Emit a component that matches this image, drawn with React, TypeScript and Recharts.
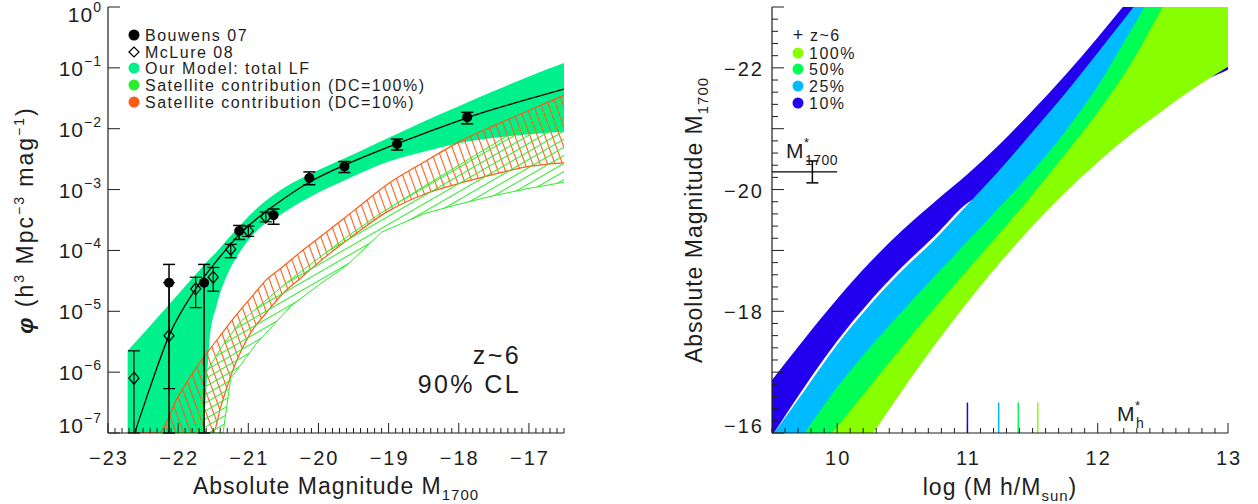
import React from 'react';
import {
  ComposedChart,
  Area,
  Line,
  Scatter,
  ErrorBar,
  XAxis,
  YAxis,
  ReferenceLine,
} from 'recharts';

/* two-panel figure: z~6 luminosity function (left), M1700 vs halo mass (right) */

const FONT = '"Liberation Sans", Arial, sans-serif';
const INK = '#1e1e1e';
const MINT = '#00f08c';
const SAT_GREEN = '#2bee2b';
const SAT_ORANGE = '#ff5a14';
const C100 = '#88ff00';
const C50 = '#00ff55';
const C25 = '#00bbff';
const C10 = '#2200ee';

// ---- left panel data (values are log10 phi) ----
const bouwensMag = [-22.13, -21.63, -21.13, -20.64, -20.13, -19.63, -18.88, -17.88];
const bouwensLog = [-4.53, -4.53, -3.68, -3.42, -2.81, -2.62, -2.25, -1.81];
const bouwensHiLog = [-4.23, -4.23, -3.59, -3.32, -2.71, -2.54, -2.17, -1.73];
const bouwensLoLog = [-7, -7, -3.82, -3.57, -2.92, -2.72, -2.35, -1.92];

const mclureMag = [-22.63, -22.13, -21.75, -21.5, -21.25, -21.0, -20.75];
const mclureLog = [-6.1, -5.4, -4.63, -4.44, -3.98, -3.68, -3.45];
const mclureHiLog = [-5.65, -4.53, -4.44, -4.28, -3.9, -3.6, -3.37];
const mclureLoLog = [-7, -6.27, -4.94, -4.67, -4.12, -3.77, -3.53];

const totalMag = [-22.72, -22.5, -22.0, -21.7, -21.6, -21.55, -21.45, -21.3, -21.15, -20.9, -20.5, -20.0, -19.5, -19.0, -18.5, -18.0, -17.5, -17.0, -16.5];
const totalHiLog = [-5.65, -5.37, -4.72, -4.33, -4.2, -4.14, -4.02, -3.82, -3.63, -3.33, -2.98, -2.68, -2.42, -2.15, -1.88, -1.63, -1.38, -1.14, -0.92];
const totalLoLog = [-8, -8, -8, -8, -6.3, -5.45, -4.9, -4.4, -4.08, -3.7, -3.38, -3.05, -2.78, -2.54, -2.38, -2.24, -2.15, -2.09, -2.05];

const medianMag = [-22.62, -22.4, -22.13, -21.75, -21.4, -21.13, -20.9, -20.64, -20.13, -19.63, -19.0, -18.5, -17.88, -17.5, -17.0, -16.5];
const medianLog = [-7.0, -6.25, -5.4, -4.63, -4.1, -3.74, -3.5, -3.27, -2.88, -2.6, -2.3, -2.08, -1.82, -1.68, -1.51, -1.35];

const dc10Mag = [-22.72, -22.29, -22.0, -21.69, -21.5, -21.4, -21.22, -20.98, -20.74, -20.5, -20.27, -20.0, -19.5, -19.0, -18.5, -18.0, -17.5, -17.0, -16.5];
const dc10HiLog = [-7, -7, -6.4, -5.84, -5.55, -5.4, -5.13, -4.8, -4.48, -4.26, -4.04, -3.8, -3.35, -2.9, -2.55, -2.22, -1.95, -1.7, -1.45];
const dc10LoLog = [-7, -7, -7, -7, -7, -6.6, -5.97, -5.38, -5.02, -4.7, -4.47, -4.2, -3.75, -3.35, -3.08, -2.9, -2.75, -2.62, -2.56];

const dc100Mag = [-22.3, -21.75, -21.6, -21.36, -21.25, -21.1, -20.9, -20.7, -20.4, -20.0, -19.6, -19.1, -18.5, -18.0, -17.5, -17.0, -16.5];
const dc100HiLog = [-7, -7, -6.0, -5.55, -5.38, -5.16, -4.97, -4.77, -4.48, -4.13, -3.78, -3.38, -2.95, -2.6, -2.25, -1.9, -1.5];
const dc100LoLog = [-7, -7, -7, -7, -6.1, -5.87, -5.55, -5.3, -4.92, -4.57, -4.25, -3.7, -3.4, -3.24, -3.1, -2.98, -2.88];

// ---- right panel data (M1700 vs log halo mass, one band per duty cycle) ----
const massGrid = [9.5, 9.75, 10.0, 10.25, 10.5, 10.75, 11.0, 11.25, 11.5, 11.75, 12.0, 12.25, 12.5, 12.75, 13.0];
const dc10Top = [-16.87, -17.55, -18.2, -18.8, -19.33, -19.8, -20.25, -20.75, -21.3, -21.88, -22.5, -23.15, -23.8, -24.5, -25.2];
const dc10Bottom = [-15.95, -16.76, -17.51, -18.16, -18.73, -19.24, -19.78, -20.03, -20.65, -21.28, -21.95, -22.63, -21.9, -21.8, -21.97];
const dc25Top = [-15.95, -16.7, -17.45, -18.1, -18.67, -19.18, -19.75, -20.33, -20.95, -21.58, -22.25, -22.93, -23.6, -24.3, -25.0];
const dc25Bottom = [-14.95, -15.7, -16.45, -17.1, -17.7, -18.28, -18.85, -19.42, -20.0, -20.65, -21.4, -22.3, -23.2, -24.1, -24.9];
const dc50Top = [-15.25, -16.0, -16.75, -17.4, -18.0, -18.58, -19.15, -19.72, -20.3, -20.95, -21.7, -22.6, -23.5, -24.4, -25.2];
const dc50Bottom = [-14.5, -15.15, -15.8, -16.46, -17.12, -17.76, -18.38, -18.99, -19.62, -20.28, -20.97, -21.75, -22.7, -23.6, -24.5];
const dc100Top = [-14.8, -15.45, -16.1, -16.76, -17.42, -18.06, -18.68, -19.29, -19.92, -20.58, -21.27, -22.05, -23.0, -23.9, -24.8];
const dc100Bottom = [-13.8, -14.5, -15.2, -15.92, -16.7, -17.45, -18.15, -18.8, -19.4, -19.95, -20.45, -20.9, -21.3, -21.68, -22.02];

const mStarHalo = [11.0, 11.24, 11.39, 11.54];
const mStarHaloColors = [C10, C25, C50, C100];
const mStar1700 = { mass: 9.81, mag: -20.29, err: 0.18, lineFrom: 9.5, lineTo: 10.0 };

// ---- tick labels ----
const leftMagLabels = [-23, -22, -21, -20, -19, -18, -17];
const decades = [1e-7, 1e-6, 1e-5, 1e-4, 1e-3, 1e-2, 1e-1, 1];
const massLabels = [10, 11, 12, 13];
const rightMagMajor = [-23, -22, -21, -20, -19, -18, -17, -16];
const rightMagLabels = [-22, -20, -18, -16];

const steps = (a: number, b: number, s: number) => {
  const n = Math.round((b - a) / s);
  const out: number[] = [];
  for (let i = 0; i <= n; i++) out.push(Math.round((a + i * s) * 1000) / 1000);
  return out;
};
const leftMagTicks = steps(-23, -16.5, 0.1);
const massTicks = steps(9.5, 13, 0.1);
const rightMagTicks = steps(-23, -16, 0.2);

const p10 = (v: number) => Math.pow(10, v);
const has = (arr: number[], v: number) => arr.some((a) => Math.abs(a - v) < 1e-6);
const fmt = (v: number) => (v < 0 ? '\u2212' + Math.abs(v) : String(v));

const withErr = (mag: number[], lg: number[], hi: number[], lo: number[]) =>
  mag.map((m, i) => {
    const phi = p10(lg[i]);
    return { m, phi, err: [phi - p10(lo[i]), p10(hi[i]) - phi] };
  });
const bandData = (mag: number[], lo: number[], hi: number[]) =>
  mag.map((m, i) => ({ m, band: [p10(lo[i]), p10(hi[i])] }));
const massBand = (bottom: number[], top: number[]) =>
  massGrid.map((lm, i) => ({ lm, band: [bottom[i], top[i]] }));

const bouwensData = withErr(bouwensMag, bouwensLog, bouwensHiLog, bouwensLoLog);
const mclureData = withErr(mclureMag, mclureLog, mclureHiLog, mclureLoLog);
const totalData = bandData(totalMag, totalLoLog, totalHiLog);
const dc10Data = bandData(dc10Mag, dc10LoLog, dc10HiLog);
const dc100Data = bandData(dc100Mag, dc100LoLog, dc100HiLog);
const medianData = medianMag.map((m, i) => ({ m, phi: p10(medianLog[i]) }));

// ---- inward-pointing IDL style ticks ----
const txt = { fontFamily: FONT, fill: INK } as const;

function linTick(side: string, majors: number[], labels: number[], liftAt?: number) {
  return (props: any) => {
    const { x, y, payload } = props;
    const v = Number(payload.value);
    const major = has(majors, v);
    const len = side === 'left' || side === 'right' ? (major ? 12 : 6) : major ? 10 : 5;
    let line = null;
    if (side === 'bottom') line = <line x1={x} y1={y} x2={x} y2={y - len} stroke={INK} />;
    if (side === 'top') line = <line x1={x} y1={y} x2={x} y2={y + len} stroke={INK} />;
    if (side === 'left') line = <line x1={x} y1={y} x2={x + len} y2={y} stroke={INK} />;
    if (side === 'right') line = <line x1={x} y1={y} x2={x - len} y2={y} stroke={INK} />;
    let label = null;
    if (has(labels, v) && side === 'bottom') {
      label = (
        <text x={x + 1} y={y + 32} textAnchor="middle" fontSize={20} letterSpacing={2} {...txt}>
          {fmt(v)}
        </text>
      );
    }
    if (has(labels, v) && side === 'left') {
      const dy = liftAt !== undefined && Math.abs(v - liftAt) < 1e-6 ? 0 : 8;
      label = (
        <text x={x - 8} y={y + dy} textAnchor="end" fontSize={20} letterSpacing={2} {...txt}>
          {fmt(v)}
        </text>
      );
    }
    return (
      <g>
        {line}
        {label}
      </g>
    );
  };
}

function logTick(side: string) {
  return (props: any) => {
    const { x, y, payload } = props;
    const e = Math.round(Math.log10(Number(payload.value)));
    if (side === 'right') return <line x1={x} y1={y} x2={x - 12} y2={y} stroke={INK} />;
    const base = e === 0 ? 15 : e === -7 ? 0 : 8;
    return (
      <g>
        <line x1={x} y1={y} x2={x + 12} y2={y} stroke={INK} />
        <text x={x - 6} y={y + base} textAnchor="end" fontSize={21} letterSpacing={1} {...txt}>
          <tspan>10</tspan>
          <tspan dy={-10} fontSize={14}>
            {e === 0 ? '0' : '\u2212' + Math.abs(e)}
          </tspan>
        </text>
      </g>
    );
  };
}

const axisLine = { stroke: INK, strokeWidth: 1.2 };

const Diamond = (props: any) => {
  const { cx, cy } = props;
  return (
    <path
      d={`M${cx - 5},${cy}L${cx},${cy - 6}L${cx + 5},${cy}L${cx},${cy + 6}Z`}
      fill="none"
      stroke="#000"
      strokeWidth={1.2}
    />
  );
};
const Dot = (props: any) => <circle cx={props.cx} cy={props.cy} r={5} fill="#000" />;
const Nothing = () => <g />;

function LeftPanel() {
  return (
    <ComposedChart width={600} height={504} margin={{ top: 7, right: 36, bottom: 0, left: 0 }}>
      <XAxis
        dataKey="m"
        type="number"
        domain={[-23, -16.5]}
        allowDataOverflow
        ticks={leftMagTicks}
        interval={0}
        tick={linTick('bottom', leftMagLabels, leftMagLabels)}
        tickLine={false}
        tickSize={0}
        tickMargin={0}
        axisLine={axisLine}
        height={71}
      />
      <XAxis
        xAxisId="top"
        orientation="top"
        type="number"
        domain={[-23, -16.5]}
        allowDataOverflow
        ticks={leftMagTicks}
        interval={0}
        tick={linTick('top', leftMagLabels, [])}
        tickLine={false}
        tickSize={0}
        tickMargin={0}
        axisLine={axisLine}
        height={0}
      />
      <YAxis
        dataKey="phi"
        type="number"
        scale="log"
        domain={[1e-7, 1]}
        allowDataOverflow
        ticks={decades}
        interval={0}
        tick={logTick('left')}
        tickLine={false}
        tickSize={0}
        tickMargin={0}
        axisLine={axisLine}
        width={108}
      />
      <YAxis
        yAxisId="right"
        orientation="right"
        type="number"
        scale="log"
        domain={[1e-7, 1]}
        allowDataOverflow
        ticks={decades}
        interval={0}
        tick={logTick('right')}
        tickLine={false}
        tickSize={0}
        tickMargin={0}
        axisLine={axisLine}
        width={0}
      />
      <Area data={totalData} dataKey="band" type="monotoneX" fill={MINT} fillOpacity={1} stroke="none" isAnimationActive={false} />
      <Area
        data={dc10Data}
        dataKey="band"
        type="monotoneX"
        fill="url(#hatchOrange)"
        fillOpacity={1}
        stroke={SAT_ORANGE}
        strokeWidth={1.2}
        isAnimationActive={false}
      />
      <Area
        data={dc100Data}
        dataKey="band"
        type="linear"
        fill="url(#hatchGreen)"
        fillOpacity={1}
        stroke={SAT_GREEN}
        strokeWidth={1}
        isAnimationActive={false}
      />
      <Line data={medianData} dataKey="phi" type="monotone" stroke="#000" strokeWidth={1.3} dot={false} isAnimationActive={false} />
      <Scatter data={mclureData} dataKey="phi" shape={Diamond} isAnimationActive={false}>
        <ErrorBar dataKey="err" direction="y" width={6} stroke="#000" strokeWidth={1.2} />
      </Scatter>
      <Scatter data={bouwensData} dataKey="phi" shape={Dot} isAnimationActive={false}>
        <ErrorBar dataKey="err" direction="y" width={6} stroke="#000" strokeWidth={1.5} />
      </Scatter>
    </ComposedChart>
  );
}

function RightPanel() {
  const bands = [
    { data: massBand(dc10Bottom, dc10Top), color: C10 },
    { data: massBand(dc25Bottom, dc25Top), color: C25 },
    { data: massBand(dc50Bottom, dc50Top), color: C50 },
    { data: massBand(dc100Bottom, dc100Top), color: C100 },
  ];
  return (
    <ComposedChart width={598} height={504} margin={{ top: 7, right: 30, bottom: 0, left: 0 }}>
      <XAxis
        dataKey="lm"
        type="number"
        domain={[9.5, 13]}
        allowDataOverflow
        ticks={massTicks}
        interval={0}
        tick={linTick('bottom', massLabels, massLabels)}
        tickLine={false}
        tickSize={0}
        tickMargin={0}
        axisLine={axisLine}
        height={71}
      />
      <XAxis
        xAxisId="top"
        orientation="top"
        type="number"
        domain={[9.5, 13]}
        allowDataOverflow
        ticks={massTicks}
        interval={0}
        tick={linTick('top', massLabels, [])}
        tickLine={false}
        tickSize={0}
        tickMargin={0}
        axisLine={axisLine}
        height={0}
      />
      <YAxis
        dataKey="mag"
        type="number"
        reversed
        domain={[-23, -16]}
        allowDataOverflow
        ticks={rightMagTicks}
        interval={0}
        tick={linTick('left', rightMagMajor, rightMagLabels, -16)}
        tickLine={false}
        tickSize={0}
        tickMargin={0}
        axisLine={axisLine}
        width={112}
      />
      <YAxis
        yAxisId="right"
        orientation="right"
        type="number"
        reversed
        domain={[-23, -16]}
        allowDataOverflow
        ticks={rightMagTicks}
        interval={0}
        tick={linTick('right', rightMagMajor, [])}
        tickLine={false}
        tickSize={0}
        tickMargin={0}
        axisLine={axisLine}
        width={0}
      />
      {bands.map((b, i) => (
        <Area
          key={i}
          data={b.data}
          dataKey="band"
          type="monotoneX"
          fill={b.color}
          fillOpacity={1}
          stroke="none"
          isAnimationActive={false}
        />
      ))}
      {mStarHalo.map((x, i) => (
        <ReferenceLine
          key={'mh' + i}
          segment={[
            { x, y: -16 },
            { x, y: -16.5 },
          ]}
          stroke={mStarHaloColors[i]}
          strokeWidth={1.5}
        />
      ))}
      <ReferenceLine
        segment={[
          { x: mStar1700.lineFrom, y: mStar1700.mag },
          { x: mStar1700.lineTo, y: mStar1700.mag },
        ]}
        stroke="#000"
        strokeWidth={1.3}
      />
      <Scatter
        data={[{ lm: mStar1700.mass, mag: mStar1700.mag, err: mStar1700.err }]}
        dataKey="mag"
        shape={Nothing}
        isAnimationActive={false}
      >
        <ErrorBar dataKey="err" direction="y" width={6} stroke="#000" strokeWidth={1.5} />
      </Scatter>
    </ComposedChart>
  );
}

const leftLegend = [
  { label: 'Bouwens 07', kind: 'dot', color: '#000' },
  { label: 'McLure 08', kind: 'diamond', color: '#000' },
  { label: 'Our Model: total LF', kind: 'dot', color: MINT },
  { label: 'Satellite contribution (DC=100%)', kind: 'dot', color: SAT_GREEN },
  { label: 'Satellite contribution (DC=10%)', kind: 'dot', color: SAT_ORANGE },
];
const rightLegend = [
  { label: '100%', color: C100 },
  { label: '50%', color: C50 },
  { label: '25%', color: C25 },
  { label: '10%', color: C10 },
];
const leftLegendY = [35, 52, 68, 85, 102];
const rightLegendY = [53, 69, 86, 103];

function Overlay() {
  return (
    <svg width={1258} height={504} style={{ position: 'absolute', left: 0, top: 0, pointerEvents: 'none' }}>
      {/* left legend */}
      {leftLegend.map((e, i) => (
        <g key={i}>
          {e.kind === 'dot' ? (
            <circle cx={134} cy={leftLegendY[i]} r={5.5} fill={e.color} />
          ) : (
            <path
              d={`M129,${leftLegendY[i]}L134,${leftLegendY[i] - 5}L139,${leftLegendY[i]}L134,${leftLegendY[i] + 5}Z`}
              fill="none"
              stroke="#000"
              strokeWidth={1.2}
            />
          )}
          <text x={145} y={leftLegendY[i] + 5.5} fontSize={16} letterSpacing={1.5} {...txt}>
            {e.label}
          </text>
        </g>
      ))}
      <text x={521} y={364} textAnchor="end" fontSize={25} letterSpacing={2.4} {...txt}>
        z~6
      </text>
      <text x={521} y={393} textAnchor="end" fontSize={25} letterSpacing={2.4} {...txt}>
        90% CL
      </text>
      {/* left axis titles */}
      <text x={336} y={494} textAnchor="middle" fontSize={23} letterSpacing={1} {...txt}>
        Absolute Magnitude M
        <tspan dy={6} fontSize={15}>
          1700
        </tspan>
      </text>
      <text transform="translate(33,220) rotate(-90)" textAnchor="middle" fontSize={23} letterSpacing={2} {...txt}>
        <tspan fontWeight="bold" fontStyle="italic">
          {'\u03c6'}
        </tspan>
        <tspan> (h</tspan>
        <tspan dy={-9} fontSize={14}>
          3
        </tspan>
        <tspan dy={9}> Mpc</tspan>
        <tspan dy={-9} fontSize={14}>
          {'\u22123'}
        </tspan>
        <tspan dy={9}> mag</tspan>
        <tspan dy={-9} fontSize={14}>
          {'\u22121'}
        </tspan>
        <tspan dy={9}>)</tspan>
      </text>

      {/* right legend */}
      <text x={798} y={41} textAnchor="middle" fontSize={18} {...txt}>
        +
      </text>
      <text x={810} y={40.5} fontSize={16} letterSpacing={1.5} {...txt}>
        z~6
      </text>
      {rightLegend.map((e, i) => (
        <g key={i}>
          <circle cx={798} cy={rightLegendY[i]} r={5.5} fill={e.color} />
          <text x={809} y={rightLegendY[i] + 5.5} fontSize={16} letterSpacing={1.5} {...txt}>
            {e.label}
          </text>
        </g>
      ))}
      {/* M*_1700 and M*_h annotations */}
      <text x={786} y={158} fontSize={21} {...txt}>
        M
      </text>
      <text x={804} y={147} fontSize={13} {...txt}>
        *
      </text>
      <text x={805} y={165} fontSize={14} letterSpacing={0.5} {...txt}>
        1700
      </text>
      <text x={1117} y={421} fontSize={21} {...txt}>
        M
      </text>
      <text x={1135} y={410} fontSize={13} {...txt}>
        *
      </text>
      <text x={1136} y={428} fontSize={14} {...txt}>
        h
      </text>
      {/* right axis titles */}
      <text x={1000} y={495} textAnchor="middle" fontSize={23} letterSpacing={1} {...txt}>
        {'log (M  h/M'}
        <tspan dy={6} fontSize={15}>
          sun
        </tspan>
        <tspan dy={-6}>)</tspan>
      </text>
      <text transform="translate(702,220) rotate(-90)" textAnchor="middle" fontSize={23} letterSpacing={1} {...txt}>
        Absolute Magnitude M
        <tspan dy={6} fontSize={15}>
          1700
        </tspan>
      </text>
    </svg>
  );
}

export default function App() {
  return (
    <div style={{ position: 'absolute', left: 0, top: 0, width: 1258, height: 504, background: '#fff' }}>
      <svg width={0} height={0} style={{ position: 'absolute' }}>
        <defs>
          <pattern id="hatchOrange" patternUnits="userSpaceOnUse" width={7} height={14} patternTransform="rotate(-20)">
            <line x1={3.5} y1={0} x2={3.5} y2={14} stroke={SAT_ORANGE} strokeWidth={1.1} />
          </pattern>
          <pattern id="hatchGreen" patternUnits="userSpaceOnUse" width={14} height={7} patternTransform="rotate(-30)">
            <line x1={0} y1={3.5} x2={14} y2={3.5} stroke={SAT_GREEN} strokeWidth={1} />
          </pattern>
        </defs>
      </svg>
      <div style={{ position: 'absolute', left: 0, top: 0 }}>
        <LeftPanel />
      </div>
      <div style={{ position: 'absolute', left: 660, top: 0 }}>
        <RightPanel />
      </div>
      <Overlay />
    </div>
  );
}
